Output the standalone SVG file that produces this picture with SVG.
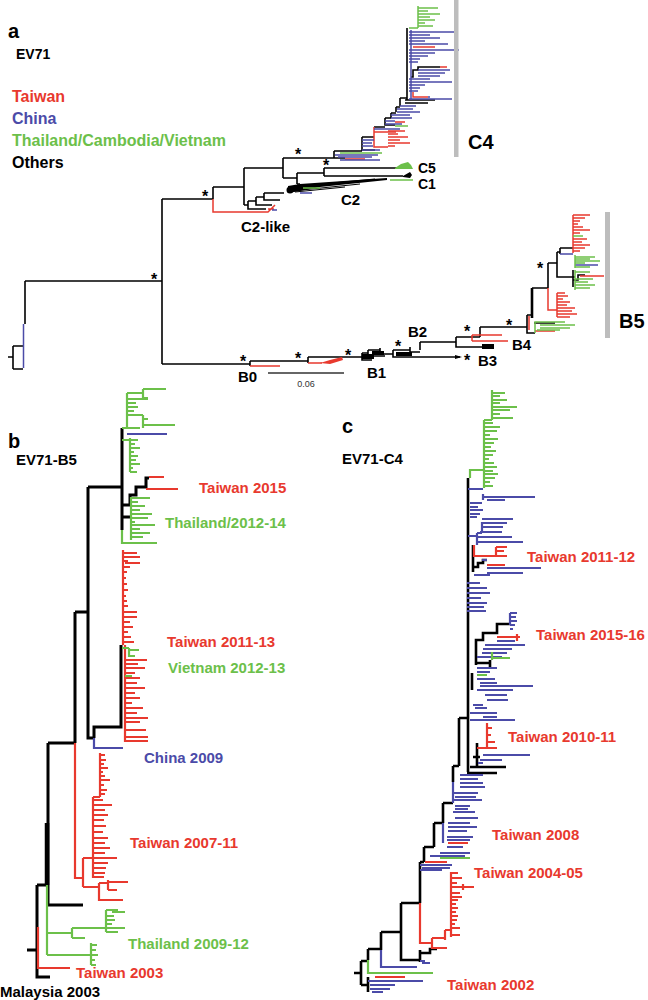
<svg xmlns="http://www.w3.org/2000/svg" width="648" height="1000" viewBox="0 0 648 1000">
<style>
text{font-family:"Liberation Sans",Arial,sans-serif;font-weight:bold}
.k{fill:none;stroke:#000;stroke-width:1.6}
.r{fill:none;stroke:#e8392e;stroke-width:1.5}
.u{fill:none;stroke:#4b4ba8;stroke-width:1.5}
.g{fill:none;stroke:#6cc04a;stroke-width:1.5}
.K{fill:none;stroke:#000;stroke-width:3}
.R{fill:none;stroke:#e8392e;stroke-width:2.2}
.U{fill:none;stroke:#4b4ba8;stroke-width:2.2}
.G{fill:none;stroke:#6cc04a;stroke-width:2.2}
.st{font-size:16px;text-anchor:middle}
.lab{font-size:15px}
.sm{font-size:14px}
.big{font-size:20px}
.tr{fill:#e8392e}.tb{fill:#4b4ba8}.tg{fill:#6cc04a}
.bar{fill:#bdbdbd}
</style>

<g id="panel-a">
  <g id="legend-a">
    <text x="8" y="38" style="font-size:20px">a</text>
    <text x="16" y="59" style="font-size:14px">EV71</text>
    <text x="12" y="102" style="font-size:16px" class="tr">Taiwan</text>
    <text x="12" y="124" style="font-size:16px" class="tb">China</text>
    <text x="12" y="146" style="font-size:16px" class="tg">Thailand/Cambodia/Vietnam</text>
    <text x="12" y="168" style="font-size:16px">Others</text>
  </g>
  <g id="branches-a">
    <path class="k" d="M8,357H13M13,346V369M13,346H23M13,369H23M25,281V324M25,281H162M162,199V364M162,199H213M213,187V199M213,187H244M244,168V205M244,168H283M283,158V178M283,158H330M283,178H297M297,173V184M297,173H324M324,168V176M324,168H397M324,176H403M297,184H300"/>
    <path class="k" d="M244,205H248M248,201V209H266M248,201H256M256,197V205H272M256,197H264M264,193V200H280M264,193H284"/>
    <circle cx="290" cy="190" r="3.5"/>
    <polygon points="288,186 300,184 387,178 387,180 320,187 300,191 288,193"/>
    <path class="k" style="stroke-width:1" d="M292,191L360,184M295,192L345,187M300,186L375,179"/>
    <polygon points="403,176 410,172 412,175 410,178 403,177"/>
    <path class="k" d="M330,158H334M334,151V158H345M334,151H362M362,137V150H375M362,137H374M374,127H385M385,118V125H395M385,118H391M391,113V118M391,113H396M396,107V112M396,107H400M400,98V106M400,98H407M407,28V100M405,100H435M405,103H428M411,77H413V70H418V67H440"/>
    <path class="k" d="M162,364H250M250,361V366M250,361H308M308,357V363M308,357H357M357,357H362M362,353V360H372M362,353H368M368,350V356H385M368,350H380M380,348V354H393M393,350V357H460M393,350H410M410,347V352H420M420,342V350M420,342H456M456,337V347H490M456,337H480M480,327V337M480,327H527M527,315V333H535M527,315H532M532,288H548M548,263V288M548,263H557M557,252V277H575M557,252H560M560,248V254M560,248H573M573,270V287M534,323H555M573,280H578V275H585"/>
    <path d="M532,288V318" fill="none" stroke="#000" stroke-width="2.6"/>
    <rect x="362" y="354" width="12" height="5"/>
    <rect x="372" y="351" width="12" height="4"/>
    <rect x="396" y="352" width="16" height="4"/>
    <rect x="482" y="344" width="12" height="5"/>
    <polygon points="455,355 462,357 455,359"/>
    <path class="r" d="M213,199V212H268L275,205M250,366H280M308,363H322M472,335V341M472,335H502M472,341H508M548,288V310H557M557,293V317M573,215V253M580,276H604M535,331H555M529,316V330M413,47H435M440,67H447M413,92V97H428M374,127V147H388M374,132H396M395,122H405M345,159H365M268,209H274"/>
    <polygon class="tr" points="320,363 330,360 342,357 343,360 330,364"/>
    <path class="r" d="M388,131H405M388,134H398M388,137H408M388,140H400M388,143H410M388,146H395"/>
    <path class="r" d="M573,215H590M573,218H585M573,221H580M573,224H578M573,227H583M573,230H590M573,233H580M573,239H587M573,242H582M573,245H590M573,248H585M573,251H580"/>
    <path class="r" d="M557,293H565M557,296H568M557,299H563M557,302H570M557,305H567M557,308H575M557,311H572M557,314H577M557,317H570"/>
    <path class="u" d="M23.5,324V368M560,254H573M575,265H598M272,210H277"/>
    <path class="u" d="M409,32H458M409,35H430M409,38H440M409,41H425M409,44H448M409,50H459M409,53H435M409,56H428M409,59H420M409,62H418M418,70H450M418,73H445M418,76H440M409,79H430M409,82H452M409,85H425M409,88H420M409,91H418M428,97H430M409,99H452M411,30V100"/>
    <path class="u" d="M400,106H416M397,109H413M397,112H420M391,115H410M391,118H412M385,121H395M385,124H402M385,129H400M374,129H385M362,140H374M362,143H372M362,146H373M362,150H380M335,155H378M338,157H372M340,160H380M300,193H312"/>
    <path class="g" d="M409,28H418M418,6V28M418,8H438M418,11H428M418,14H440M418,17H430M418,20H435M418,23H425M418,26H433M395,126H408M340,153H382M390,180H413M303,188H320M573,236H583"/>
    <polygon class="tg" points="395,168 401,164 408,162 411,165 413,169 395,169"/>
    <path class="g" d="M575,255V268M575,257H595M575,259H590M575,261H600M575,263H585M575,267H590M575,270V290M575,272H590M575,279H593M575,282H588M575,285H595M575,288H590M535,333V322H540M540,322H565M540,325H575M540,328H570M537,330H560"/>
    <path d="M268,373H344" stroke="#333" stroke-width="1.6"/>
  </g>
  <rect class="bar" x="454" y="0" width="4.5" height="157"/>
  <rect class="bar" x="605" y="212" width="5" height="126"/>
  <g id="labels-a">
    <text class="big" x="468" y="149">C4</text>
    <text class="sm" x="418" y="173">C5</text>
    <text class="sm" x="418" y="189">C1</text>
    <text class="lab" x="341" y="205">C2</text>
    <text class="lab" x="241" y="232">C2-like</text>
    <text class="lab" x="238" y="382">B0</text>
    <text class="lab" x="367" y="378">B1</text>
    <text class="lab" x="408" y="337">B2</text>
    <text class="lab" x="478" y="366">B3</text>
    <text class="lab" x="512" y="350">B4</text>
    <text class="big" x="619" y="328">B5</text>
    <text x="306" y="387" style="font-size:9px;font-weight:normal;fill:#333;text-anchor:middle">0.06</text>
    <text class="st" x="154" y="285">*</text>
    <text class="st" x="205" y="202">*</text>
    <text class="st" x="298" y="160">*</text>
    <text class="st" x="326" y="171">*</text>
    <text class="st" x="243" y="367">*</text>
    <text class="st" x="298" y="364">*</text>
    <text class="st" x="348" y="361">*</text>
    <text class="st" x="398" y="352">*</text>
    <text class="st" x="467" y="337">*</text>
    <text class="st" x="467" y="366">*</text>
    <text class="st" x="509" y="331">*</text>
    <text class="st" x="540" y="274">*</text>
  </g>
</g>

<g id="panel-b">
  <text x="8" y="448" style="font-size:20px">b</text>
  <text x="16" y="465" style="font-size:15px">EV71-B5</text>
  <g id="branches-b">
    <path class="K" d="M88,487V738H94M88,487H122M122,428V530M122,505H130V495H136V487H146V478H149M122,517H132M121,645V727H94V738M75,612H88M75,612V743M48,743H75M48,743V905H83M37,885H48M37,885V977H50M27,950H37"/>
    <path d="M47,823V885" stroke="#000" stroke-width="4.5"/>
    <path class="R" d="M149,477H164M146,489H178M123,550V645M125,645V742"/>
    <path class="R" d="M123,553H137M123,557H140M123,561H128M125,563H140M123,567H130M123,572H127M123,578H126M123,584H127M123,590H128M123,596H126M123,601H127M123,606H128M123,612H137M123,617H137M123,622H130M123,627H133M123,632H128M123,637H131M123,642H134M125,660H147M125,664H138M125,668H145M125,673H135M125,678H140M125,683H137M125,688H145M125,693H135M125,698H140M125,703H132M125,708H143M125,713H137M125,718H148M125,722H140M125,730H146M125,737H148M125,741H148"/>
    <path class="R" d="M75,743V878H83M83,858V887M83,858H93M93,797V878M93,797H100M100,753V797M83,887H99M99,883V900H123M99,883H108M108,880V890M108,882H128M108,890H117M38,927V968H70"/>
    <path class="R" d="M100,755H105M100,760H106M100,764H104M100,768H108M100,772H103M100,776H105M100,780H110M100,785H104M100,790H107M100,794H105M93,800H103M93,805H112M93,810H105M93,815H108M93,820H104M93,826H106M93,832H103M93,838H108M93,843H105M93,848H110M93,853H105M93,858H117M93,863H108M93,868H106M93,873H105M93,877H104"/>
    <path class="U" d="M94,738V748H123M127,434H167"/>
    <path class="G" d="M122,428H127M127,393V428M127,393H143M143,389V398M143,389H166M143,398H148M127,399H148M127,403H136M127,407H138M127,411H134M127,415H143M143,415V428M143,419H148M143,425H175M127,428H140"/>
    <path class="G" d="M122,440H130M130,438V472M130,440H138M130,444H135M130,448H140M130,452H134M130,456H138M130,460H136M130,464H140M130,468H133M130,472H137"/>
    <path class="G" d="M131,497V540M131,498H150M131,502H138M131,506H145M131,510H140M131,514H152M131,518H148M131,522H135M131,525H155M131,529H140M131,533H150M131,537H143M122,530V543H157"/>
    <path class="G" d="M122,648H129M129,648V657M129,650H139M129,656H135M125,676H132"/>
    <path class="G" d="M47,885V955M47,933H72M72,928V938M72,928H106M72,938H85M106,910V932M106,910H118M112,912H125M106,916H114M106,920H115M106,924H112M106,928H125M106,932H118M47,955H91M91,943V965M91,945H97M91,950H96M91,955H98M91,960H95M91,965H96"/>
  </g>
  <g id="labels-b">
    <text class="lab tr" x="199" y="493">Taiwan 2015</text>
    <text class="lab tg" x="165" y="528">Thailand/2012-14</text>
    <text class="lab tr" x="167" y="647">Taiwan 2011-13</text>
    <text class="lab tg" x="168" y="673">Vietnam 2012-13</text>
    <text class="lab tb" x="144" y="763">China 2009</text>
    <text class="lab tr" x="130" y="848">Taiwan 2007-11</text>
    <text class="lab tg" x="128" y="949">Thailand 2009-12</text>
    <text class="lab tr" x="76" y="978">Taiwan 2003</text>
    <text class="lab" x="0" y="997">Malaysia 2003</text>
  </g>
</g>

<g id="panel-c">
  <text x="342" y="433" style="font-size:20px">c</text>
  <text x="342" y="464" style="font-size:15px">EV71-C4</text>
  <g id="branches-c">
    <path class="K" style="stroke-width:2.6" d="M468,478V772M459,718H467M459,718V766M453,766H459M453,766V782M443,803H453M443,803V823M434,823H443M434,823V847M424,847H434M424,847V862M420,862H424M420,862V903M401,903H420M401,903V960H420M420,950V962M420,953H430V949H437M381,932H401M381,932V950M368,949H381M368,949V960M361,961H368M361,961V985M354,973H361M361,985H368M368,977V992M473,545V572M473,567H478V563H483V560H487M476,665V640H483V633H497V624H510M476,663H490M490,660V667M472,673V690M477,743V767M470,767H506M467,773H497M473,757H480"/>
    <path class="U" d="M468,489H483M483,494V500M483,497H535M487,500H505M470,503H482M470,507H478M470,510H483M470,514H480M470,517H477M468,536H477M477,533V545M482,522V533M477,533H482M482,519H513M482,523H507M482,527H503M480,532H502M478,537H512M478,542H523M482,560H487M487,568H541M487,573H523M474,575H490M467,583H480M467,588H487M467,593H490M467,598H481M467,603H487M467,607H484M467,611H486M510,613V625M510,613H517M510,617H516M510,621H517M510,625H515M510,629H513M497,641H515M485,645H525M483,649H512M482,653H507M477,657H502M477,668H497M477,672H490M477,679H495M480,683H497M480,686H533"/>
    <path class="U" d="M477,690H513M485,695H507M487,700H508M473,705H483M475,708H487M470,713H497M483,717H497M470,720H515M483,755H530M480,760H502M478,763H483M460,775H483M460,779H478M460,783H483M460,787H485M453,782V803M453,793H478M455,797H476M453,800H482M455,806H470M455,809H468M453,812H475M455,818H478M448,823H470M448,827H477M448,831H467M443,823V843M447,837H473M447,840H470M447,847H463M440,853H470M430,856H465M420,865H452M422,868H450M420,870H442M381,950V967H417M420,961H425M422,963H430M368,981H423M370,985H395M370,989H390M372,992H383"/>
    <path class="R" d="M474,545V556H496M496,547V556M496,547H507M496,551H504M496,556H507M487,565H505M497,637H520M517,634V641M487,723V748M477,748H497M487,728H492M487,735H491M487,742H495M448,843H468M425,862H447M420,903V943H432M432,938V948H447M432,938H445M445,930V940M445,930H451M451,872V937M375,977H405"/>
    <path class="R" d="M451,873H458M451,878H462M451,883H457M451,887H463M463,884V890M463,887H474M451,893H460M451,897H462M451,900H458M451,904H456M451,908H458M451,912H456M451,916H458M451,920H457M451,924H455M451,928H460M451,935H460"/>
    <path class="G" d="M470,478V470H484M484,420V488M484,420H492M492,390V420M492,393H505M492,396H500M492,400H507M492,403H500M492,407H517M492,410H510M492,414H500M492,418H513M484,423H493M484,427H500M484,431H497M484,435H490M484,439H498M484,443H494M484,447H491M484,451H496M484,455H493M484,459H489M484,463H494M484,467H497M484,471H493M484,474H498M484,478H495M484,482H490M484,486H493M492,652V660M492,658H510M477,675H487M440,858H470M368,960V973H433"/>
  </g>
  <g id="labels-c">
    <text class="lab tr" x="527" y="562">Taiwan 2011-12</text>
    <text class="lab tr" x="536" y="640">Taiwan 2015-16</text>
    <text class="lab tr" x="508" y="742">Taiwan 2010-11</text>
    <text class="lab tr" x="492" y="840">Taiwan 2008</text>
    <text class="lab tr" x="474" y="878">Taiwan 2004-05</text>
    <text class="lab tr" x="447" y="990">Taiwan 2002</text>
  </g>
</g>
</svg>
